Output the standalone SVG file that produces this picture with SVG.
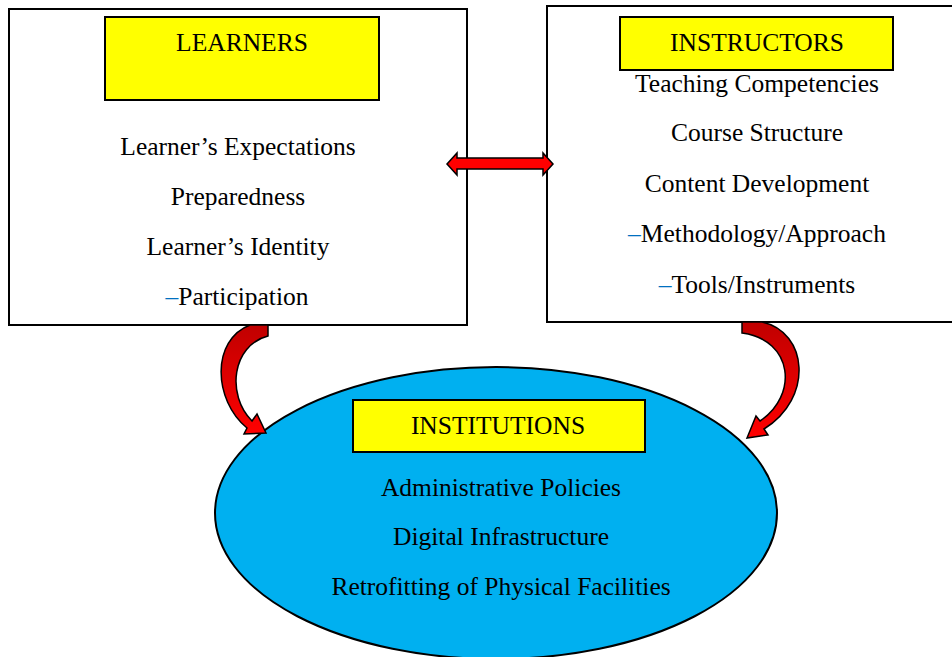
<svg xmlns="http://www.w3.org/2000/svg" width="952" height="657" viewBox="0 0 952 657">
  <style>
    .frame { fill: #ffffff; stroke: #000000; stroke-width: 2; }
    .tag { fill: #ffff00; stroke: #000000; stroke-width: 2; }
    .oval { fill: #00b0f0; stroke: #000000; stroke-width: 2; }
    .t { font-family: "Liberation Serif", "Times New Roman", serif; font-size: 25.5px; fill: #000000; text-anchor: middle; }
    .dash { fill: #0070c0; }
    .arrow { stroke: #000000; stroke-width: 1.5; stroke-linejoin: miter; }
  </style>
  <defs>
    <linearGradient id="redL" x1="0" y1="0" x2="0" y2="1">
      <stop offset="0" stop-color="#c00000"/>
      <stop offset="1" stop-color="#ff0000"/>
    </linearGradient>
  </defs>

  <rect width="952" height="657" fill="#ffffff"/>

  <!-- Learners -->
  <g id="learners">
    <rect class="frame" x="9" y="9" width="458" height="316"/>
    <rect class="tag" x="105" y="17" width="274" height="83"/>
    <text class="t" x="242" y="51">LEARNERS</text>
    <text class="t" x="238" y="155">Learner’s Expectations</text>
    <text class="t" x="238" y="205">Preparedness</text>
    <text class="t" x="238" y="255">Learner’s Identity</text>
    <text class="t" x="237" y="305"><tspan class="dash">–</tspan>Participation</text>
  </g>

  <!-- Instructors -->
  <g id="instructors">
    <rect class="frame" x="547" y="6" width="410" height="316"/>
    <rect class="tag" x="620" y="17" width="273" height="53"/>
    <text class="t" x="757" y="51">INSTRUCTORS</text>
    <text class="t" x="757" y="92">Teaching Competencies</text>
    <text class="t" x="757" y="141">Course Structure</text>
    <text class="t" x="757" y="192">Content Development</text>
    <text class="t" x="757" y="242"><tspan class="dash">–</tspan>Methodology/Approach</text>
    <text class="t" x="757" y="293"><tspan class="dash">–</tspan>Tools/Instruments</text>
  </g>

  <!-- Institutions -->
  <g id="institutions">
    <ellipse class="oval" cx="496" cy="513" rx="281" ry="146"/>
    <rect class="tag" x="353" y="400" width="292" height="52"/>
    <text class="t" x="498" y="434">INSTITUTIONS</text>
    <text class="t" x="501" y="496">Administrative Policies</text>
    <text class="t" x="501" y="545">Digital Infrastructure</text>
    <text class="t" x="501" y="595">Retrofitting of Physical Facilities</text>
  </g>

  <!-- Connectors -->
  <g id="connectors">
    <!-- two-way link between learners and instructors -->
    <path class="arrow" fill="#ff0000" d="M447,164 L457,153 L457,158 L543,158 L543,153 L553,164 L543,175 L543,169 L457,169 L457,175 Z"/>
    <!-- learners to institutions -->
    <path class="arrow" fill="url(#redL)" d="M268,325 L250,325 C211,340 213,400 247,428 L244,434 L266,433 L257,414 L252,421 C226,395 232,345 268,336 Z"/>
    <!-- instructors to institutions -->
    <path class="arrow" fill="url(#redL)" d="M742,322 L762,322 C808,332 814,398 764,429 L768,435 L747,438 L756,416 L760,421 C798,396 794,340 742,333 Z"/>
  </g>
</svg>
